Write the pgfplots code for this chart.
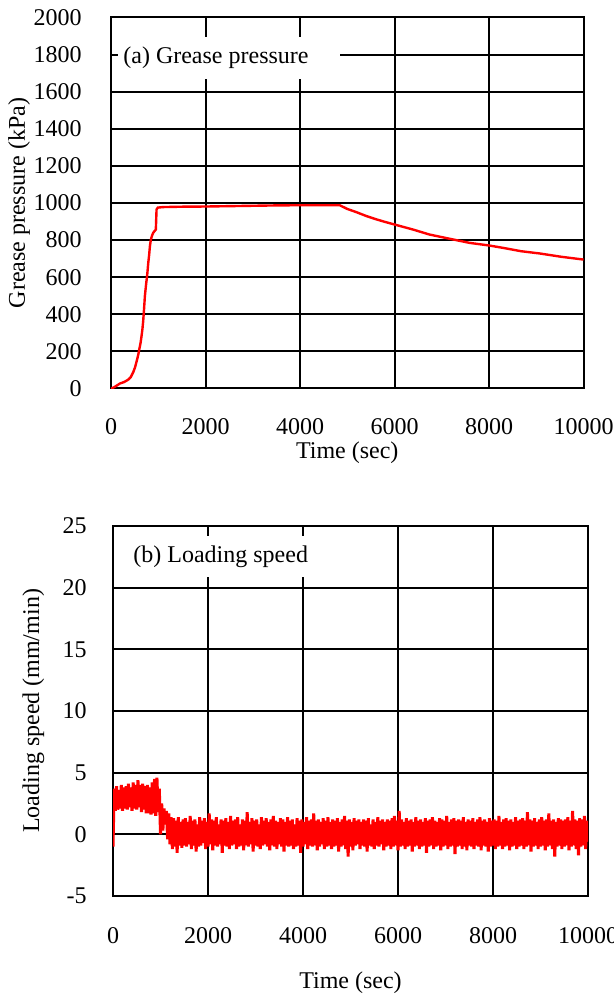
\documentclass[border=0pt]{standalone}
\usepackage{pgfplots}
\pgfplotsset{compat=1.18}
\usepackage{fontspec}
\setmainfont{Liberation Serif}
\pgfplotstableread{
t p
0 0
50 5
100 12
190 27
280 35
366 48
420 62
471 88
510 115
543 147
575 180
598 210
625 245
646 282
665 320
681 363
700 430
717 498
740 555
767 615
790 680
808 722
825 770
844 803
870 825
893 839
920 848
949 857
964 965
990 975
1100 978
1500 980
2000 981
2500 983
3000 985
3500 987
4000 988
4500 988
4840 988
5000 968
5200 950
5400 930
5600 913
5800 898
6000 884
6390 857
6740 830
7170 807
7590 785
8000 771
8300 758
8680 740
9070 728
9530 710
10000 695
}\pressure
\pgfplotsset{
  myaxis/.style={
    scale only axis,
    anchor=south west,
    xmin=0, xmax=10000,
    xtick={0,2000,4000,6000,8000,10000},
    scaled x ticks=false,
    scaled y ticks=false,
    xticklabel style={/pgf/number format/set thousands separator={}, anchor=center, inner sep=0pt},
    yticklabel style={/pgf/number format/set thousands separator={}, anchor=east, inner sep=0pt},
    /pgf/number format/assume math mode=true,
    grid=major,
    major grid style={black, line width=1bp},
    axis line style={black, line width=1bp},
    major tick length=0pt,
    tick style={draw=none},
  }
}
\begin{document}
\begin{tikzpicture}[font=\fontsize{12bp}{14bp}\selectfont]
\useasboundingbox (0bp,0bp) rectangle (307bp,499.5bp);
% (a) Grease pressure
\begin{axis}[myaxis,
  at={(55.5bp,305.25bp)},
  width=236.25bp, height=185.5bp,
  ymin=0, ymax=2000,
  ytick={0,200,...,2000},
  xticklabel style={yshift=-19bp},
  yticklabel style={xshift=-14.5bp},
  xlabel={Time (sec)},
  xlabel style={at={(axis description cs:0.5,0)}, anchor=center, yshift=-32bp},
  ylabel={Grease pressure (kPa)},
  ylabel style={at={(axis description cs:0,0.5)}, anchor=center, yshift=46bp},
]
\addplot[red, line width=1.2bp] table[x=t, y=p] {\pressure};
\fill[white] (rel axis cs:0.0148,0.834) rectangle (rel axis cs:0.4847,0.947);
\node[anchor=west, inner sep=0pt] at (rel axis cs:0.0254,0.892) {(a) Grease pressure};
\end{axis}
% (b) Loading speed
\begin{axis}[myaxis,
  at={(56.5bp,51.5bp)},
  width=237.5bp, height=185bp,
  ymin=-5, ymax=25,
  ytick={-5,0,...,25},
  xticklabel style={yshift=-20bp},
  yticklabel style={xshift=-13bp},
  xlabel={Time (sec)},
  xlabel style={at={(axis description cs:0.5,0)}, anchor=center, yshift=-43.5bp},
  ylabel={Loading speed (mm/min)},
  ylabel style={at={(axis description cs:0,0.5)}, anchor=center, yshift=39.75bp},
]
\addplot[red, line width=1.5bp] table[row sep=\\, x expr=\coordindex*25, y index=0] {
y\\
-1.0\\3.7\\1.9\\3.9\\2.0\\3.6\\2.1\\4.0\\1.9\\3.8\\
2.1\\3.9\\2.0\\4.1\\2.2\\3.8\\1.9\\4.2\\2.1\\4.0\\
2.0\\4.4\\2.2\\4.0\\1.8\\4.1\\2.0\\3.9\\1.7\\4.0\\
1.7\\3.8\\1.6\\4.2\\1.7\\4.5\\1.5\\4.6\\1.8\\3.7\\
0.0\\2.5\\0.3\\2.1\\0.8\\1.9\\-0.4\\1.7\\-0.8\\1.4\\
-1.2\\1.3\\-1.0\\1.1\\-1.5\\1.4\\-0.9\\1.0\\-1.1\\1.2\\
-0.9\\1.3\\-1.0\\1.0\\-0.8\\1.5\\-1.2\\1.1\\-0.9\\1.2\\
-1.4\\0.8\\-1.0\\1.4\\-0.9\\1.1\\-0.7\\1.3\\-1.2\\1.0\\
-1.0\\1.7\\-0.8\\1.2\\-1.3\\1.1\\-0.9\\1.4\\-1.0\\0.8\\
-0.8\\1.2\\-1.5\\1.1\\-0.9\\1.3\\-1.0\\1.0\\-1.2\\1.5\\
-0.9\\1.1\\-0.8\\1.2\\-1.2\\1.4\\-1.0\\0.8\\-0.9\\1.2\\
-1.3\\1.1\\-0.9\\1.8\\-1.0\\1.0\\-0.8\\1.3\\-1.4\\1.1\\
-0.9\\1.2\\-1.0\\0.8\\-1.2\\1.4\\-0.9\\1.1\\-0.8\\1.3\\
-1.0\\1.0\\-1.3\\1.2\\-0.9\\1.5\\-1.0\\1.1\\-1.2\\1.0\\
-0.8\\1.3\\-1.0\\1.2\\-1.4\\1.0\\-0.9\\1.4\\-1.0\\1.1\\
-0.9\\1.2\\-1.2\\0.8\\-1.0\\1.3\\-0.9\\1.1\\-1.5\\1.2\\
-1.0\\1.0\\-0.8\\1.4\\-1.2\\1.1\\-0.9\\1.2\\-1.0\\1.7\\
-0.9\\1.1\\-1.3\\1.2\\-1.0\\1.0\\-0.8\\1.3\\-1.2\\1.1\\
-1.0\\1.4\\-0.9\\1.0\\-1.2\\1.2\\-1.0\\1.1\\-0.9\\1.3\\
-1.4\\1.0\\-1.0\\1.2\\-0.9\\1.5\\-1.2\\1.1\\-1.8\\1.2\\
-1.0\\1.0\\-1.3\\1.3\\-0.9\\1.1\\-0.8\\1.2\\-1.2\\1.0\\
-0.9\\1.2\\-1.0\\1.1\\-1.4\\1.3\\-0.9\\0.8\\-1.0\\1.2\\
-1.2\\1.0\\-0.9\\1.4\\-1.0\\1.1\\-0.8\\1.2\\-1.3\\1.0\\
-1.0\\1.2\\-0.9\\1.1\\-1.2\\1.3\\-1.0\\1.5\\-0.9\\1.1\\
-1.3\\1.9\\-1.0\\1.2\\-0.9\\1.0\\-1.2\\1.3\\-1.0\\1.1\\
-0.9\\1.2\\-1.4\\1.0\\-1.0\\1.4\\-0.9\\1.1\\-1.2\\1.2\\
-1.0\\1.0\\-0.9\\1.3\\-1.5\\1.1\\-1.0\\1.2\\-0.9\\1.4\\
-1.2\\1.1\\-1.0\\1.0\\-0.9\\1.3\\-1.3\\1.2\\-1.0\\1.1\\
-0.9\\1.5\\-1.2\\1.0\\-1.0\\1.2\\-0.9\\1.3\\-1.6\\1.1\\
-1.0\\1.2\\-0.9\\1.1\\-1.2\\1.4\\-1.0\\1.0\\-1.3\\1.2\\
-0.9\\1.1\\-1.0\\1.3\\-1.2\\1.0\\-0.9\\1.2\\-1.0\\1.4\\
-1.3\\1.1\\-0.9\\1.2\\-1.0\\1.0\\-1.4\\1.3\\-1.0\\1.1\\
-0.9\\1.2\\-1.2\\1.1\\-1.0\\1.5\\-0.9\\1.0\\-1.2\\1.2\\
-1.0\\1.3\\-0.9\\1.1\\-1.3\\1.2\\-1.0\\1.0\\-0.9\\1.4\\
-1.2\\1.1\\-1.0\\1.2\\-0.9\\1.3\\-1.2\\1.1\\-1.0\\1.8\\
-0.9\\1.2\\-1.4\\1.1\\-1.0\\1.3\\-0.9\\1.0\\-1.2\\1.2\\
-1.0\\1.4\\-0.9\\1.1\\-1.3\\1.2\\-1.0\\1.7\\-0.9\\1.1\\
-1.2\\1.2\\-1.8\\1.0\\-1.0\\1.3\\-0.9\\1.2\\-1.2\\1.1\\
-1.0\\1.2\\-0.9\\1.4\\-1.3\\1.1\\-1.0\\1.9\\-0.9\\1.2\\
-1.2\\1.1\\-1.7\\1.3\\-1.0\\1.2\\-0.9\\1.5\\-1.2\\1.1\\
-0.6\\
};
\fill[white] (rel axis cs:0.0316,0.862) rectangle (rel axis cs:0.478,0.973);
\node[anchor=west, inner sep=0pt] at (rel axis cs:0.0421,0.9176) {(b) Loading speed};
\end{axis}
\end{tikzpicture}
\end{document}
